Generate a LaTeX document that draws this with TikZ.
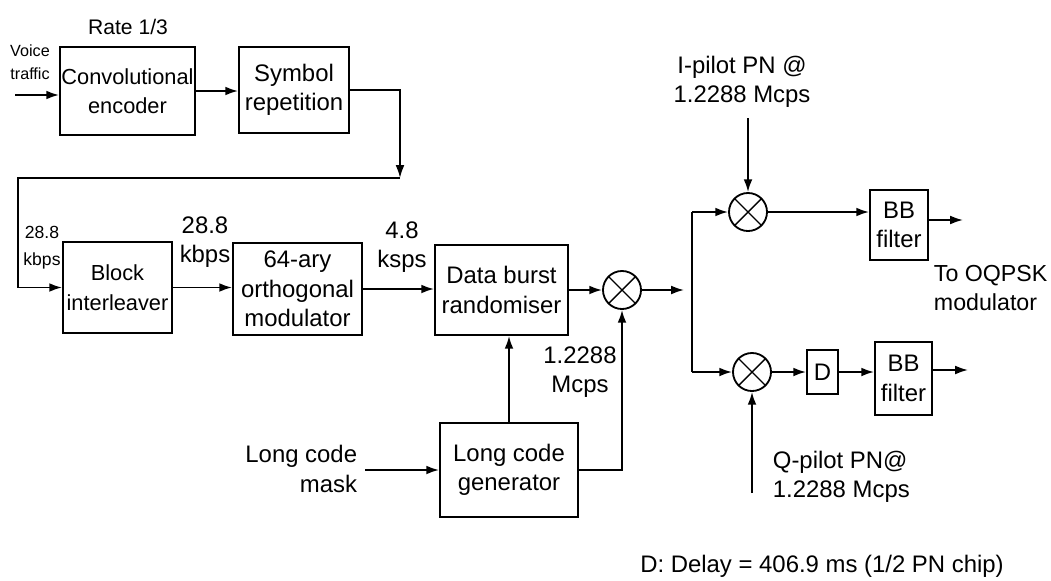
\documentclass[tikz,border=0pt]{standalone}
\usepackage{fontspec}
\setmainfont{Liberation Sans}
\usetikzlibrary{arrows.meta}

\begin{document}
\begin{tikzpicture}[x=0.025cm,y=-0.025cm,line width=1.3pt,
    >={Latex[length=3.2mm,width=2.2mm]},
    every node/.style={font=\fontsize{17}{21}\selectfont},
    blk/.style={draw,line width=1.3pt,align=center,inner sep=0pt},
    mult/.style={draw,circle,minimum size=0.95cm,inner sep=0pt,
      path picture={\draw[line width=1pt]
        (path picture bounding box.north west)--(path picture bounding box.south east)
        (path picture bounding box.south west)--(path picture bounding box.north east);}},
    lbl/.style={align=center,inner sep=0pt},
    narrow/.style={font=\fontsize{15.5}{21}\selectfont},
    tiny/.style={font=\fontsize{11.5}{16}\selectfont}]
    \useasboundingbox (0,0) rectangle (1051,580);
    % top row
    \node[lbl,font=\fontsize{15}{18}\selectfont] (rate) at (128,27){Rate 1/3};
    \node[lbl,tiny] (voice) at (30,62){Voice\\traffic};
    \node[blk,narrow,minimum width=3.375cm,minimum height=2.2cm] (conv) at (127.5,91){Convolutional\\encoder};
    \node[blk,minimum width=2.75cm,minimum height=2.15cm] (symrep) at (294,90){Symbol\\repetition};
    \coordinate (vin) at (15,95);
    \coordinate (t1) at (400,178);
    \coordinate (t2) at (18,178);
    \draw[->] (vin) -- (vin -| conv.west);
    \draw[->] (conv.east) -- (conv.east -| symrep.west);
    \draw[->] (symrep.east) -| (t1);
    % middle row
    \node[blk,narrow,minimum width=2.725cm,minimum height=2.275cm] (blint) at (117.5,287.5){Block\\interleaver};
    \node[blk,minimum width=3.225cm,minimum height=2.3cm] (orth) at (297.5,289){64-ary\\orthogonal\\modulator};
    \node[blk,minimum width=3.325cm,minimum height=2.25cm] (dbr) at (501.5,290){Data burst\\randomiser};
    \node[mult] (m1) at (622,290){};
    \node[lbl,font=\fontsize{12.5}{19}\selectfont] (r1) at (42,248){28.8\\kbps};
    \node[lbl] (r2) at (205,242){28.8\\kbps};
    \node[lbl] (r3) at (402,247){4.8\\ksps};
    \draw[->] (t1) -- (t2) |- (blint.west);
    \draw[->] (blint.east) -- (blint.east -| orth.west);
    \draw[->] (orth.east) -- (orth.east -| dbr.west);
    \draw[->] (dbr.east) -- (m1.west);
    % long code
    \node[blk,minimum width=3.45cm,minimum height=2.35cm] (lcg) at (509,470){Long code\\generator};
    \node[lbl,align=right,anchor=east] (mask) at (358,469){Long code\\mask};
    \node[lbl] (chip) at (580,372){1.2288\\Mcps};
    \coordinate (mk) at (365,470);
    \draw[->] (mk) -- (lcg.west);
    \draw[->] (lcg.north) -- (lcg.north |- dbr.south);
    \draw[->] (lcg.east) -| (m1.south);
    % I / Q branches
    \coordinate (sp) at (684,290);
    \coordinate (bt) at (692,212);
    \coordinate (bb) at (692,372);
    \draw[->] (m1.east) -- (sp);
    \draw (bt) -- (bb);
    \node[mult] (mI) at (748,212){};
    \node[mult] (mQ) at (752,372){};
    \node[blk,minimum width=1.45cm,minimum height=1.75cm] (bbI) at (899,225){BB\\filter};
    \node[blk,minimum width=0.775cm,minimum height=1.1cm] (del) at (822.5,372){D};
    \node[blk,minimum width=1.425cm,minimum height=1.825cm] (bbQ) at (903.5,378.5){BB\\filter};
    \node[lbl] (ipn) at (742,82){I-pilot PN @\\1.2288 Mcps};
    \node[lbl,align=left,anchor=west] (qpn) at (772,477){Q-pilot PN@\\1.2288 Mcps};
    \node[lbl,align=left,anchor=west,font=\fontsize{16.5}{21}\selectfont] (oqpsk) at (933,288){To OQPSK\\modulator};
    \coordinate (ip) at (748,118);
    \coordinate (qp) at (752,493);
    \coordinate (oI) at (963,220);
    \coordinate (oQ) at (968,370);
    \draw[->] (bt) -- (mI.west);
    \draw[->] (bb) -- (mQ.west);
    \draw[->] (ip) -- (mI.north);
    \draw[->] (qp) -- (mQ.south);
    \draw[->] (mI.east) -- (mI.east -| bbI.west);
    \draw[->] (bbI.east |- oI) -- (oI);
    \draw[->] (mQ.east) -- (del.west);
    \draw[->] (del.east) -- (del.east -| bbQ.west);
    \draw[->] (bbQ.east |- oQ) -- (oQ);
    \node[lbl] (note) at (822,566){D: Delay = 406.9 ms (1/2 PN chip)};
  \end{tikzpicture}
\end{document}
